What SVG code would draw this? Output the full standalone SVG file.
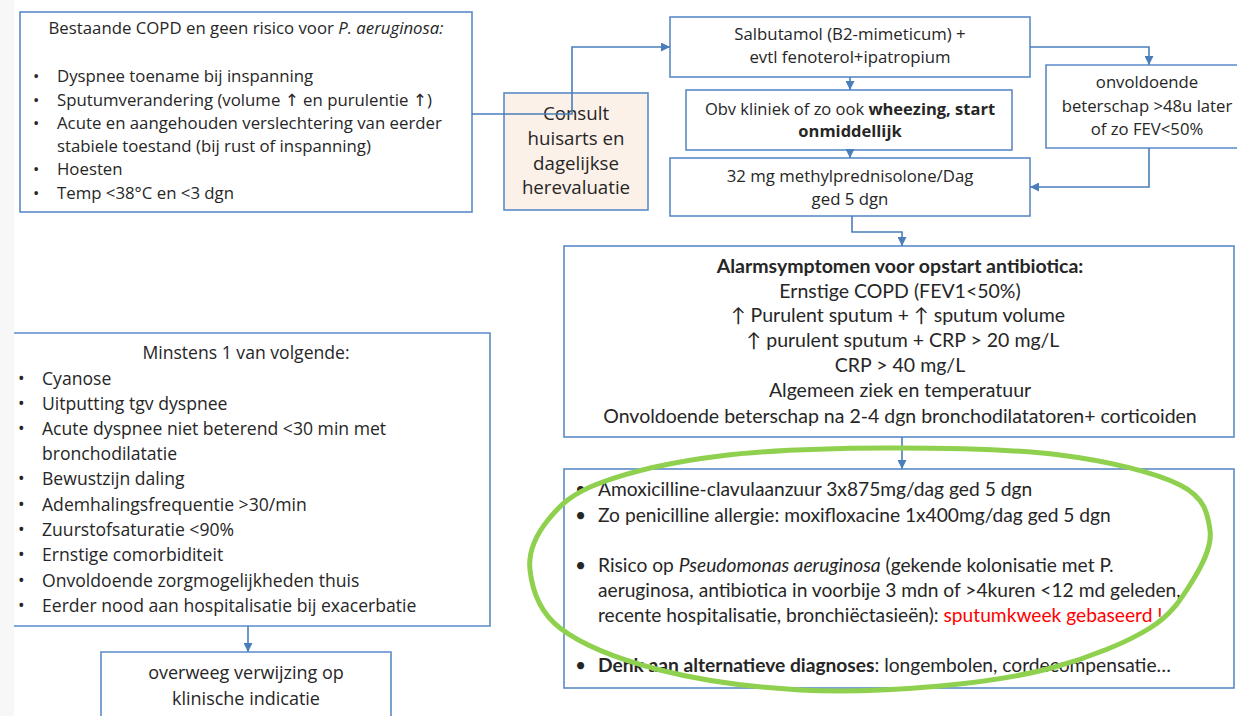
<svg xmlns="http://www.w3.org/2000/svg" width="1237" height="716" viewBox="0 0 1237 716">
<defs>
<marker id="arr" viewBox="0 0 10 10" refX="10" refY="5" markerWidth="9" markerHeight="9" markerUnits="userSpaceOnUse" orient="auto">
<path d="M0,0 L10,5 L0,10 z" fill="#4a7ebb"/>
</marker>
<style>
.box{fill:#ffffff;stroke:#5b8bc9;stroke-width:1.6}
.con{fill:none;stroke:#4a7ebb;stroke-width:1.6;marker-end:url(#arr)}
.os{font-family:"Open Sans","Noto Sans","DejaVu Sans",sans-serif;fill:#262626}
.lt{font-family:Lato,"Open Sans",sans-serif;fill:#262626}
.c{text-anchor:middle}
.b{font-weight:bold}
.i{font-style:italic}
</style>
</defs>
<rect x="0" y="0" width="1237" height="716" fill="#ffffff"/>
<rect x="0" y="0" width="14" height="716" fill="#f7f7f7"/>

<g id="node-bestaande">
<rect class="box" x="20" y="12" width="452" height="200"/>
<text class="os c" x="246" y="34" font-size="16.8">Bestaande COPD en geen risico voor <tspan class="i">P. aeruginosa:</tspan></text>
<g class="os" font-size="16.8">
<text x="33" y="82">•</text><text x="57" y="82">Dyspnee toename bij inspanning</text>
<text x="33" y="106">•</text><text x="57" y="106">Sputumverandering (volume ↑ en purulentie ↑)</text>
<text x="33" y="129">•</text><text x="57" y="129">Acute en aangehouden verslechtering van eerder</text>
<text x="57" y="152">stabiele toestand (bij rust of inspanning)</text>
<text x="33" y="175">•</text><text x="57" y="175">Hoesten</text>
<text x="33" y="199">•</text><text x="57" y="199">Temp &lt;38°C en &lt;3 dgn</text>
</g>
</g>

<g id="node-consult">
<rect class="box" x="504" y="93" width="144" height="117" style="fill:#fcf1e8"/>
<g class="os c" font-size="18.7">
<text x="576" y="120">Consult</text>
<text x="576" y="145">huisarts en</text>
<text x="576" y="170">dagelijkse</text>
<text x="576" y="194">herevaluatie</text>
</g>
</g>

<g id="node-salbutamol">
<rect class="box" x="670" y="17" width="360" height="60"/>
<g class="os c" font-size="16.8">
<text x="850" y="40">Salbutamol (B2-mimeticum) +</text>
<text x="850" y="63">evtl fenoterol+ipatropium</text>
</g>
</g>

<g id="node-obv">
<rect class="box" x="686" y="90" width="326" height="60"/>
<g class="os c" font-size="16.5">
<text x="850" y="115">Obv kliniek of zo ook <tspan class="b">wheezing, start</tspan></text>
<text x="850" y="137" class="b">onmiddellijk</text>
</g>
</g>

<g id="node-methylpred">
<rect class="box" x="670" y="158" width="360" height="58"/>
<g class="os c" font-size="16.8">
<text x="850" y="182">32 mg methylprednisolone/Dag</text>
<text x="850" y="205">ged 5 dgn</text>
</g>
</g>

<g id="node-onvoldoende">
<path class="box" d="M1240,65 H1046 V148 H1240"/>
<g class="os c" font-size="16.7">
<text x="1147" y="88">onvoldoende</text>
<text x="1147" y="112">beterschap &gt;48u later</text>
<text x="1147" y="135">of zo FEV&lt;50%</text>
</g>
</g>

<g id="node-alarm">
<rect class="box" x="564" y="246" width="670" height="191"/>
<g class="lt c" font-size="19.5">
<text x="900" y="273" class="b">Alarmsymptomen voor opstart antibiotica:</text>
<text x="900" y="298">Ernstige COPD (FEV1&lt;50%)</text>
<text x="898" y="322">↑  Purulent sputum + ↑ sputum volume</text>
<text x="903" y="347">↑ purulent sputum + CRP &gt; 20 mg/L</text>
<text x="900" y="372">CRP &gt; 40 mg/L</text>
<text x="900" y="397">Algemeen ziek en temperatuur</text>
<text x="900" y="423">Onvoldoende beterschap na 2-4 dgn bronchodilatatoren+ corticoiden</text>
</g>
</g>

<g id="node-antibiotica">
<rect class="box" x="564" y="469" width="670" height="219"/>
<g class="lt" font-size="19.2">
<text x="575" y="496">•</text><text x="598" y="496">Amoxicilline-clavulaanzuur 3x875mg/dag ged 5 dgn</text>
<text x="575" y="522">•</text><text x="598" y="522">Zo penicilline allergie: moxifloxacine 1x400mg/dag ged 5 dgn</text>
<text x="575" y="572">•</text><text x="598" y="572">Risico op <tspan class="i">Pseudomonas aeruginosa</tspan> (gekende kolonisatie met P.</text>
<text x="598" y="597">aeruginosa, antibiotica in voorbije 3 mdn of &gt;4kuren &lt;12 md geleden,</text>
<text x="598" y="622">recente hospitalisatie, bronchiëctasieën): <tspan fill="#ff0000">sputumkweek gebaseerd !</tspan></text>
<text x="575" y="672">•</text><text x="598" y="672"><tspan class="b">Denk aan alternatieve diagnoses</tspan>: longembolen, cordecompensatie…</text>
</g>
</g>

<g id="node-minstens">
<path class="box" d="M14,333 H490 V626 H14"/>
<text class="os c" x="246" y="359" font-size="17.6">Minstens 1 van volgende:</text>
<g class="os" font-size="17.6">
<text x="18" y="385">•</text><text x="42" y="385">Cyanose</text>
<text x="18" y="410">•</text><text x="42" y="410">Uitputting tgv dyspnee</text>
<text x="18" y="435">•</text><text x="42" y="435">Acute dyspnee niet beterend &lt;30 min met</text>
<text x="42" y="460">bronchodilatatie</text>
<text x="18" y="485">•</text><text x="42" y="485">Bewustzijn daling</text>
<text x="18" y="511">•</text><text x="42" y="511">Ademhalingsfrequentie &gt;30/min</text>
<text x="18" y="536">•</text><text x="42" y="536">Zuurstofsaturatie &lt;90%</text>
<text x="18" y="561">•</text><text x="42" y="561">Ernstige comorbiditeit</text>
<text x="18" y="587">•</text><text x="42" y="587">Onvoldoende zorgmogelijkheden thuis</text>
<text x="18" y="612">•</text><text x="42" y="612">Eerder nood aan hospitalisatie bij exacerbatie</text>
</g>
</g>

<g id="node-overweeg">
<path class="box" d="M101,720 V652 H391 V720"/>
<g class="os c" font-size="18">
<text x="246" y="679">overweeg verwijzing op</text>
<text x="246" y="705">klinische indicatie</text>
</g>
</g>

<g id="connectors">
<path class="con" d="M472,114 H572 V47 H670"/>
<path class="con" d="M850,77 V90"/>
<path class="con" d="M850,150 V158"/>
<path class="con" d="M1030,47 H1149 V65"/>
<path class="con" d="M1149,148 V187 H1030"/>
<path class="con" d="M852,216 V232 H902 V246"/>
<path class="con" d="M902,437 V469"/>
<path class="con" d="M248,626 V652"/>
</g>

<path id="highlight" fill="none" stroke="#8fd14f" stroke-width="5" d="M885,448 C828.3,448.2 767.5,450.2 720,456 C672.5,461.8 628.7,472.3 600,483 C571.3,493.7 559.7,505.5 548,520 C536.3,534.5 528,552 530,570 C532,588 538.3,611.3 560,628 C581.7,644.7 620,659.7 660,670 C700,680.3 753.3,687.3 800,690 C846.7,692.7 897.5,689.8 940,686 C982.5,682.2 1020,676.7 1055,667 C1090,657.3 1127,642.5 1150,628 C1173,613.5 1183,596.3 1193,580 C1203,563.7 1212.2,545.8 1210,530 C1207.8,514.2 1205,497.5 1180,485 C1155,472.5 1109.2,461.2 1060,455 C1010.8,448.8 941.7,447.8 885,448 Z"/>
</svg>
